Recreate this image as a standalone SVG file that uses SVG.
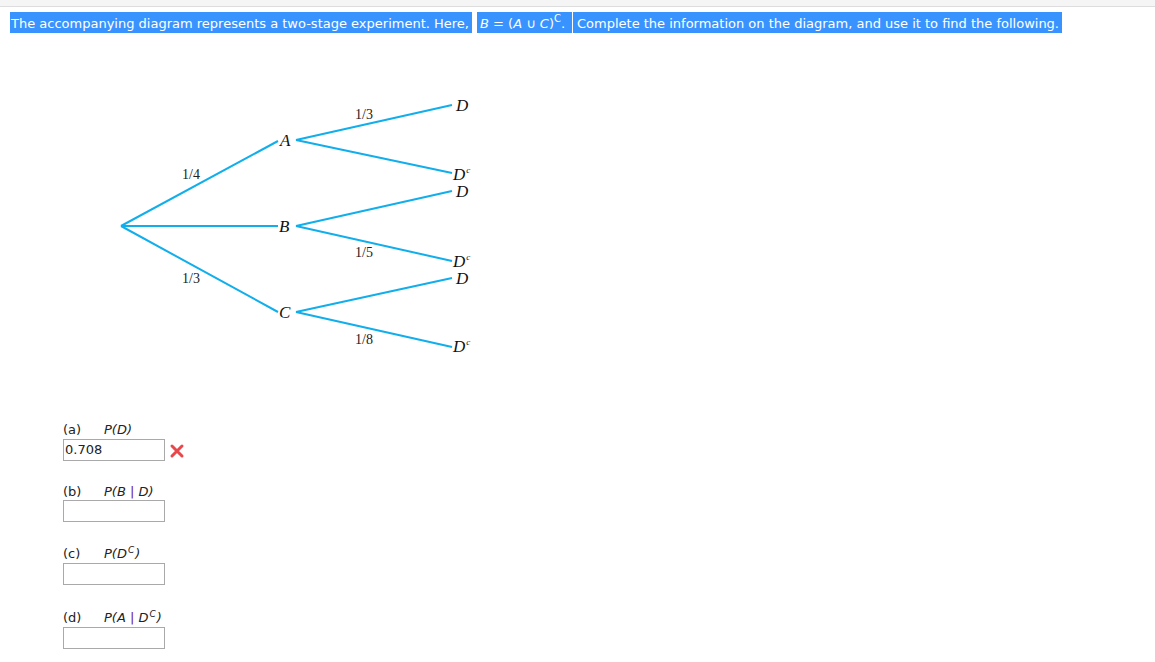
<svg xmlns="http://www.w3.org/2000/svg" width="1155" height="662" viewBox="0 0 1155 662">
<style>
.hl{fill:#3993ff}
.ht{font-family:"DejaVu Sans",Verdana,sans-serif;font-size:13px;fill:#fff}
.br{stroke:#11aeec;stroke-width:2;fill:none}
.nd{font-family:"Liberation Serif","Times New Roman",serif;font-style:italic;font-size:17px;fill:#111}
.pr{font-family:"Liberation Serif","Times New Roman",serif;font-size:14px;fill:#222}
.q{font-family:"DejaVu Sans",Verdana,sans-serif;font-size:13px;fill:#222}
.qi{font-style:italic}
.box{fill:#fff;stroke:#a9a9a9;stroke-width:1}
</style>
<rect width="1155" height="662" fill="#fff"/>
<rect x="0" y="0" width="1155" height="6" fill="#f5f5f5"/>
<line x1="0" y1="6.5" x2="1155" y2="6.5" stroke="#ddd"/>
<g id="header">
<rect class="hl" x="10" y="12" width="462" height="21"/>
<rect class="hl" x="477" y="12" width="95" height="21"/>
<rect class="hl" x="573" y="12" width="489" height="21"/>
<text class="ht" x="11" y="28" textLength="458" lengthAdjust="spacingAndGlyphs">The accompanying diagram represents a two-stage experiment. Here,</text>
<text class="ht" x="480" y="28" font-size="14"><tspan font-style="italic">B</tspan> = (<tspan font-style="italic">A</tspan> ∪ <tspan font-style="italic">C</tspan>)<tspan font-size="10" dy="-6">C</tspan><tspan dy="6">.</tspan></text>
<text class="ht" x="577" y="28" textLength="482" lengthAdjust="spacingAndGlyphs">Complete the information on the diagram, and use it to find the following.</text>
</g>
<g id="connectors">
<line class="br" x1="121" y1="226" x2="278" y2="141"/>
<line class="br" x1="121" y1="226" x2="278" y2="226"/>
<line class="br" x1="121" y1="226" x2="278" y2="312"/>
<line class="br" x1="296" y1="140" x2="452" y2="105"/>
<line class="br" x1="296" y1="140" x2="452" y2="173"/>
<line class="br" x1="296" y1="226" x2="452" y2="191"/>
<line class="br" x1="296" y1="226" x2="452" y2="261"/>
<line class="br" x1="296" y1="312" x2="452" y2="278"/>
<line class="br" x1="296" y1="312" x2="452" y2="347"/>
</g>
<g id="labels">
<text class="pr" x="182" y="179">1/4</text>
<text class="pr" x="182" y="283">1/3</text>
<text class="pr" x="355" y="119">1/3</text>
<text class="pr" x="355" y="257">1/5</text>
<text class="pr" x="355" y="344">1/8</text>
</g>
<g id="node-A"><text class="nd" x="280" y="146">A</text></g>
<g id="node-B"><text class="nd" x="279" y="232">B</text></g>
<g id="node-C"><text class="nd" x="279" y="318">C</text></g>
<g id="node-AD"><text class="nd" x="456" y="111">D</text></g>
<g id="node-ADc"><text class="nd" x="453" y="180">D<tspan font-size="9" dx="1" dy="-7">c</tspan></text></g>
<g id="node-BD"><text class="nd" x="456" y="197">D</text></g>
<g id="node-BDc"><text class="nd" x="453" y="267">D<tspan font-size="9" dx="1" dy="-7">c</tspan></text></g>
<g id="node-CD"><text class="nd" x="456" y="284">D</text></g>
<g id="node-CDc"><text class="nd" x="453" y="352">D<tspan font-size="9" dx="1" dy="-7">c</tspan></text></g>
<g id="q-a">
<text class="q" x="63" y="434">(a)</text>
<text class="q qi" x="104" y="434">P(D)</text>
<rect class="box" x="63.5" y="439.5" width="101" height="21"/>
<text class="q" x="65" y="454" font-size="12">0.708</text>
<path d="M172 446 L182 456 M182 446 L172 456" stroke="#e8474c" stroke-width="3" stroke-linecap="round"/>
</g>
<g id="q-b">
<text class="q" x="63" y="496">(b)</text>
<text class="q" x="104" y="496"><tspan class="qi">P(B</tspan> <tspan fill="#6a1a8a">|</tspan> <tspan class="qi">D)</tspan></text>
<rect class="box" x="63.5" y="500.5" width="101" height="21"/>
</g>
<g id="q-c">
<text class="q" x="63" y="558">(c)</text>
<text class="q qi" x="104" y="558">P(D<tspan font-size="9" dx="1" dy="-5">C</tspan><tspan dx="1" dy="5">)</tspan></text>
<rect class="box" x="63.5" y="563.5" width="101" height="21"/>
</g>
<g id="q-d">
<text class="q" x="63" y="622">(d)</text>
<text class="q" x="104" y="622"><tspan class="qi">P(A</tspan> <tspan fill="#6a1a8a">|</tspan> <tspan class="qi">D<tspan font-size="9" dx="1" dy="-5">C</tspan><tspan dx="1" dy="5">)</tspan></tspan></text>
<rect class="box" x="63.5" y="627.5" width="101" height="21"/>
</g>
</svg>
